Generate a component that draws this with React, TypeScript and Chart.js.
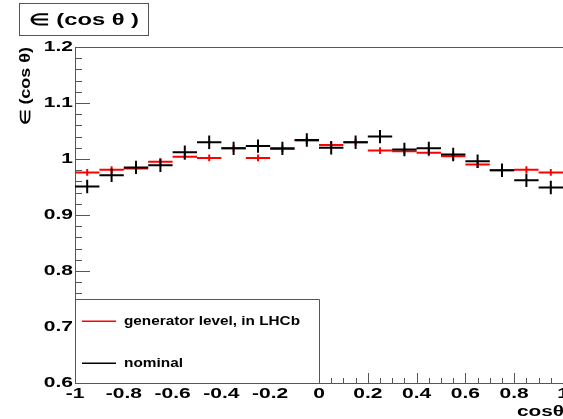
import React, { useEffect, useRef } from "react";
import { Chart, registerables } from "chart.js";

Chart.register(...registerables);

// ---- data ----
const binCenters = [-0.95, -0.85, -0.75, -0.65, -0.55, -0.45, -0.35, -0.25, -0.15, -0.05, 0.05, 0.15, 0.25, 0.35, 0.45, 0.55, 0.65, 0.75, 0.85, 0.95];
const binWidth = 0.1;
const generatorValues = [0.976, 0.981, 0.983, 0.995, 1.004, 1.002, 1.019, 1.002, 1.018, 1.033, 1.025, 1.030, 1.015, 1.014, 1.011, 1.005, 0.990, 0.980, 0.981, 0.976];
const generatorErrors = [0.006, 0.006, 0.006, 0.006, 0.006, 0.006, 0.006, 0.006, 0.006, 0.006, 0.006, 0.006, 0.006, 0.006, 0.006, 0.006, 0.006, 0.006, 0.006, 0.006];
const nominalValues = [0.951, 0.971, 0.985, 0.989, 1.012, 1.030, 1.019, 1.023, 1.019, 1.034, 1.020, 1.030, 1.040, 1.017, 1.019, 1.008, 0.996, 0.980, 0.962, 0.949];
const nominalErrors = [0.012, 0.012, 0.012, 0.012, 0.012, 0.012, 0.012, 0.012, 0.012, 0.012, 0.012, 0.012, 0.012, 0.012, 0.012, 0.012, 0.012, 0.012, 0.012, 0.012];
const seriesLabels = ["generator level, in LHCb", "nominal"];
const seriesColors = ["#ff0000", "#000000"];
const xMin = -1;
const xMax = 1;
const yMin = 0.6;
const yMax = 1.2;
const xMajorStep = 0.2;
const xMinorStep = 0.05;
const yMajorStep = 0.1;
const yMinorStep = 0.02;
const legendTopValue = 0.75;
const legendRightValue = 0;
const titleText = "\u2208 (cos \u03B8 )";
const yTitleText = "\u2208 (cos \u03B8)";
const xTitleText = "cos\u03B8";

const FONT = '"Liberation Sans", Arial, Helvetica, sans-serif';
const AXIS_COLOR = "#555555";

function fmt(v: number) {
  return String(Math.round(v * 10) / 10);
}

function drawText(
  ctx: CanvasRenderingContext2D,
  text: string,
  x: number,
  y: number,
  font: string,
  sx: number,
  align: "left" | "center" | "right",
  targetWidth?: number
) {
  ctx.save();
  ctx.font = font;
  ctx.textAlign = "left";
  ctx.textBaseline = "middle";
  const raw = ctx.measureText(text).width;
  const s = targetWidth ? targetWidth / raw : sx;
  const w = raw * s;
  const left = align === "center" ? x - w / 2 : align === "right" ? x - w : x;
  ctx.translate(left, y);
  ctx.scale(s, 1);
  ctx.fillText(text, 0, 0);
  ctx.restore();
}

const rootPlugin = {
  id: "rootStyle",
  beforeDatasetsDraw(chart: any) {
    const { ctx, chartArea } = chart;
    const xs = chart.scales.x;
    const ys = chart.scales.y;
    ctx.save();
    ctx.strokeStyle = AXIS_COLOR;
    ctx.lineWidth = 1;
    // frame
    ctx.beginPath();
    ctx.moveTo(chartArea.left + 0.5, chartArea.top + 0.5);
    ctx.lineTo(chartArea.right, chartArea.top + 0.5);
    ctx.moveTo(chartArea.left + 0.5, chartArea.top);
    ctx.lineTo(chartArea.left + 0.5, chartArea.bottom + 0.5);
    ctx.lineTo(chartArea.right, chartArea.bottom + 0.5);
    ctx.stroke();
    // y ticks
    const nY = Math.round((yMax - yMin) / yMinorStep);
    const yRatio = Math.round(yMajorStep / yMinorStep);
    ctx.beginPath();
    for (let i = 0; i <= nY; i++) {
      const v = yMin + i * yMinorStep;
      const py = Math.round(ys.getPixelForValue(v)) + 0.5;
      const len = i % yRatio === 0 ? 15 : 7;
      ctx.moveTo(chartArea.left, py);
      ctx.lineTo(chartArea.left + len, py);
    }
    // x ticks
    const nX = Math.round((xMax - xMin) / xMinorStep);
    const xRatio = Math.round(xMajorStep / xMinorStep);
    for (let i = 0; i <= nX; i++) {
      const v = xMin + i * xMinorStep;
      const px = Math.round(xs.getPixelForValue(v)) + 0.5;
      const len = i % xRatio === 0 ? 10 : 5;
      ctx.moveTo(px, chartArea.bottom);
      ctx.lineTo(px, chartArea.bottom - len);
    }
    ctx.stroke();
    ctx.restore();

    // tick labels (stretched like the reference)
    ctx.save();
    ctx.fillStyle = "#000000";
    const tickFont = "bold 14px " + FONT;
    ys.ticks.forEach((t: any) => {
      drawText(ctx, fmt(t.value), chartArea.left - 2, ys.getPixelForValue(t.value), tickFont, 1.5, "right");
    });
    xs.ticks.forEach((t: any) => {
      drawText(ctx, fmt(t.value), xs.getPixelForValue(t.value), chartArea.bottom + 11, tickFont, 1.5, "center");
    });
    ctx.restore();
  },
  afterDatasetsDraw(chart: any) {
    const { ctx, chartArea } = chart;
    const xs = chart.scales.x;
    const ys = chart.scales.y;
    ctx.save();
    ctx.beginPath();
    ctx.rect(chartArea.left, chartArea.top, chartArea.right - chartArea.left, chartArea.bottom - chartArea.top);
    ctx.clip();
    chart.data.datasets.forEach((ds: any) => {
      ctx.strokeStyle = ds.borderColor;
      ctx.lineWidth = 2;
      ctx.beginPath();
      ds.data.forEach((p: any, i: number) => {
        const x1 = xs.getPixelForValue(p.x - binWidth / 2);
        const x2 = xs.getPixelForValue(p.x + binWidth / 2);
        const xc = xs.getPixelForValue(p.x);
        const y = ys.getPixelForValue(p.y);
        const yLo = ys.getPixelForValue(p.y - ds.errors[i]);
        const yHi = ys.getPixelForValue(p.y + ds.errors[i]);
        ctx.moveTo(x1, y);
        ctx.lineTo(x2, y);
        ctx.moveTo(xc, yLo);
        ctx.lineTo(xc, yHi);
      });
      ctx.stroke();
    });
    ctx.restore();

    // legend box
    const lx1 = chartArea.left;
    const lx2 = xs.getPixelForValue(legendRightValue);
    const ly1 = ys.getPixelForValue(legendTopValue);
    const ly2 = chartArea.bottom;
    ctx.save();
    ctx.fillStyle = "#ffffff";
    ctx.fillRect(lx1 + 1, ly1, lx2 - lx1 - 1, ly2 - ly1);
    ctx.strokeStyle = AXIS_COLOR;
    ctx.lineWidth = 1;
    ctx.beginPath();
    ctx.moveTo(lx1, Math.round(ly1) + 0.5);
    ctx.lineTo(Math.round(lx2) + 0.5, Math.round(ly1) + 0.5);
    ctx.lineTo(Math.round(lx2) + 0.5, ly2);
    ctx.stroke();
    const h = ly2 - ly1;
    const legendWidths = [176, 59];
    chart.data.datasets.forEach((ds: any, i: number) => {
      const ey = ly1 + h * (i === 0 ? 0.265 : 0.765);
      ctx.strokeStyle = ds.borderColor;
      ctx.lineWidth = 1.5;
      ctx.beginPath();
      ctx.moveTo(lx1 + 7, ey);
      ctx.lineTo(lx1 + 41, ey);
      ctx.stroke();
      ctx.fillStyle = "#000000";
      drawText(ctx, ds.label, lx1 + 49, ey, "bold 12px " + FONT, 1, "left", legendWidths[i]);
    });
    ctx.restore();
  },
  afterDraw(chart: any) {
    const { ctx, chartArea } = chart;
    ctx.save();
    // title box
    ctx.fillStyle = "#ffffff";
    ctx.fillRect(19.5, 3.5, 129, 32);
    ctx.strokeStyle = AXIS_COLOR;
    ctx.lineWidth = 1;
    ctx.strokeRect(19.5, 3.5, 129, 32);
    ctx.fillStyle = "#000000";
    drawText(ctx, titleText, 84, 21, "bold 16px " + FONT, 1, "center", 110);
    // y title
    ctx.save();
    ctx.translate(26, chartArea.top);
    ctx.rotate(-Math.PI / 2);
    drawText(ctx, yTitleText, 0, 0, "bold 14px " + FONT, 1, "right", 78);
    ctx.restore();
    // x title
    drawText(ctx, xTitleText, chart.width + 1, chart.height - 7, "bold 14px " + FONT, 1, "right", 47);
    ctx.restore();
  },
};

export default function App() {
  const canvasRef = useRef<HTMLCanvasElement | null>(null);

  useEffect(() => {
    document.body.style.margin = "0";
    const canvas = canvasRef.current;
    if (!canvas) return;
    const chart = new Chart(canvas, {
      type: "scatter",
      data: {
        datasets: [
          {
            label: seriesLabels[0],
            data: binCenters.map((x, i) => ({ x, y: generatorValues[i] })),
            errors: generatorErrors,
            borderColor: seriesColors[0],
            backgroundColor: seriesColors[0],
            pointRadius: 0,
            showLine: false,
          } as any,
          {
            label: seriesLabels[1],
            data: binCenters.map((x, i) => ({ x, y: nominalValues[i] })),
            errors: nominalErrors,
            borderColor: seriesColors[1],
            backgroundColor: seriesColors[1],
            pointRadius: 0,
            showLine: false,
          } as any,
        ],
      },
      options: {
        animation: false,
        responsive: false,
        events: [],
        layout: { padding: { top: 47, left: 0, right: 0, bottom: 0 }, autoPadding: false },
        plugins: { legend: { display: false }, tooltip: { enabled: false }, title: { display: false } },
        scales: {
          x: {
            type: "linear",
            min: xMin,
            max: xMax,
            grid: { display: false, drawTicks: false },
            border: { display: false },
            ticks: { stepSize: xMajorStep, display: false, autoSkip: false, maxRotation: 0 },
            afterFit: (s: any) => {
              s.height = 36;
              s.paddingLeft = 0;
              s.paddingRight = 0;
              s.paddingTop = 0;
              s.paddingBottom = 0;
            },
          },
          y: {
            type: "linear",
            min: yMin,
            max: yMax,
            grid: { display: false, drawTicks: false },
            border: { display: false },
            ticks: { stepSize: yMajorStep, display: false, autoSkip: false },
            afterFit: (s: any) => {
              s.width = 75;
              s.paddingLeft = 0;
              s.paddingRight = 0;
              s.paddingTop = 0;
              s.paddingBottom = 0;
            },
          },
        },
      } as any,
      plugins: [rootPlugin],
    });
    return () => chart.destroy();
  }, []);

  return (
    <div style={{ width: 563, height: 419 }}>
      <canvas ref={canvasRef} width={563} height={419} style={{ width: 563, height: 419, display: "block" }} />
    </div>
  );
}
